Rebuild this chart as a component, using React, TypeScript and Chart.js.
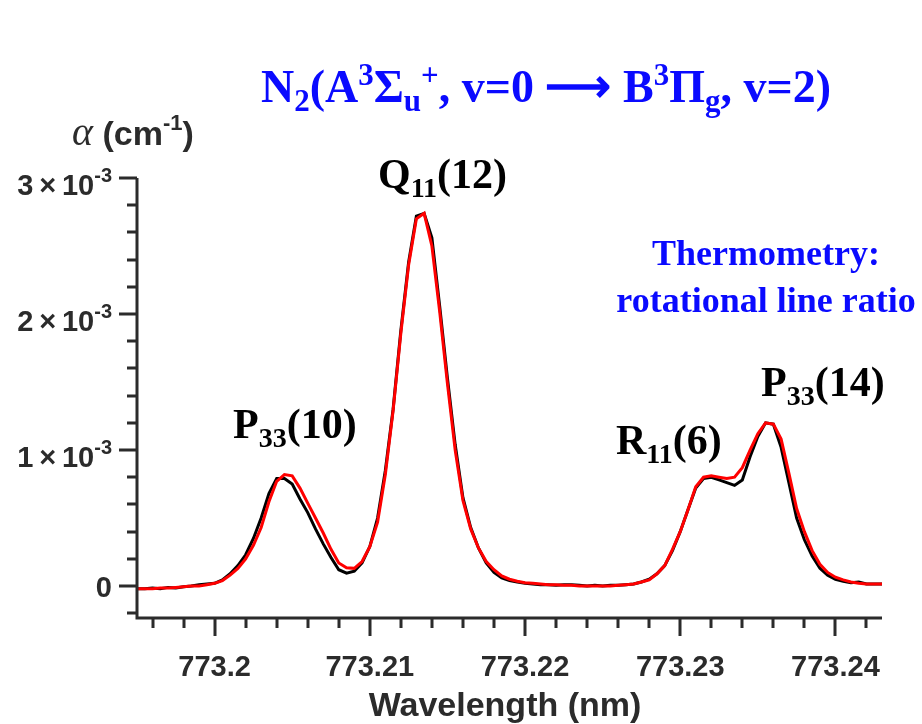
import React, { useEffect, useRef } from "react";
import { Chart, registerables } from "chart.js";

Chart.register(...registerables);

// Wavelength grid (nm)
const wavelengthNm: number[] = [
  773.195, 773.1955, 773.196, 773.1965, 773.197, 773.1975, 773.198, 773.1985, 773.199, 773.1995,
  773.2, 773.2005, 773.201, 773.2015, 773.202, 773.2025, 773.203, 773.2035, 773.204, 773.2045,
  773.205, 773.2055, 773.206, 773.2065, 773.207, 773.2075, 773.208, 773.2085, 773.209, 773.2095,
  773.21, 773.2105, 773.211, 773.2115, 773.212, 773.2125, 773.213, 773.2135, 773.214, 773.2145,
  773.215, 773.2155, 773.216, 773.2165, 773.217, 773.2175, 773.218, 773.2185, 773.219, 773.2195,
  773.22, 773.2205, 773.221, 773.2215, 773.222, 773.2225, 773.223, 773.2235, 773.224, 773.2245,
  773.225, 773.2255, 773.226, 773.2265, 773.227, 773.2275, 773.228, 773.2285, 773.229, 773.2295,
  773.23, 773.2305, 773.231, 773.2315, 773.232, 773.2325, 773.233, 773.2335, 773.234, 773.2345,
  773.235, 773.2355, 773.236, 773.2365, 773.237, 773.2375, 773.238, 773.2385, 773.239, 773.2395,
  773.24, 773.2405, 773.241, 773.2415, 773.242, 773.2425, 773.243,
];

// Absorption coefficient, measured (black), in units of 1e-3 cm^-1
const alphaMeasuredE3: number[] = [
  -0.02, -0.02, -0.015, -0.02, -0.01, -0.015, -0.005, 0.0, 0.01, 0.015,
  0.02, 0.045, 0.09, 0.15, 0.23, 0.35, 0.5, 0.68, 0.79, 0.79,
  0.75, 0.64, 0.54, 0.42, 0.31, 0.21, 0.12, 0.095, 0.11, 0.17,
  0.29, 0.5, 0.85, 1.3, 1.88, 2.38, 2.72, 2.74, 2.56, 2.06,
  1.53, 1.04, 0.65, 0.43, 0.28, 0.17, 0.1, 0.06, 0.04, 0.03,
  0.02, 0.015, 0.01, 0.01, 0.005, 0.01, 0.01, 0.005, 0.0, 0.005,
  0.0, 0.005, 0.005, 0.01, 0.015, 0.03, 0.05, 0.09, 0.15, 0.26,
  0.4, 0.56, 0.72, 0.79, 0.8, 0.78, 0.76, 0.74, 0.78, 0.95,
  1.1, 1.2, 1.19, 1.02, 0.76, 0.5, 0.34, 0.22, 0.13, 0.08,
  0.05, 0.035, 0.025, 0.03, 0.015, 0.015, 0.015,
];

// Absorption coefficient, fit (red), in units of 1e-3 cm^-1
const alphaFitE3: number[] = [
  -0.02, -0.02, -0.02, -0.015, -0.015, -0.01, -0.005, 0.0, 0.0, 0.01,
  0.02, 0.04, 0.08, 0.13, 0.2, 0.3, 0.43, 0.62, 0.77, 0.82,
  0.81, 0.72, 0.61, 0.5, 0.39, 0.27, 0.17, 0.135, 0.13, 0.18,
  0.29, 0.47, 0.82, 1.29, 1.86, 2.36, 2.7, 2.74, 2.5, 2.02,
  1.49, 1.0, 0.63, 0.42, 0.28, 0.18, 0.12, 0.075, 0.05, 0.035,
  0.025, 0.02, 0.015, 0.01, 0.01, 0.005, 0.005, 0.0, 0.0, 0.0,
  0.0, 0.0, 0.005, 0.01, 0.015, 0.03, 0.045, 0.09, 0.15, 0.27,
  0.4, 0.56, 0.73, 0.8, 0.81, 0.8, 0.79, 0.8, 0.87, 1.0,
  1.12, 1.2, 1.19, 1.08, 0.83, 0.57, 0.4, 0.26, 0.16, 0.1,
  0.065, 0.045, 0.03, 0.02, 0.015, 0.015, 0.015,
];

const xMajorTicks: number[] = [773.2, 773.21, 773.22, 773.23, 773.24];
const xTickLabels: string[] = ["773.2", "773.21", "773.22", "773.23", "773.24"];
const yMajorTicks: number[] = [0, 1e-3, 2e-3, 3e-3];
const yTickMantissa: string[] = ["0", "1\u2009\u00d7\u200910", "2\u2009\u00d7\u200910", "3\u2009\u00d7\u200910"];
const yTickExponent: string[] = ["", "-3", "-3", "-3"];

const X_MIN = 773.195;
const X_MAX = 773.243;
const Y_MIN = -0.235e-3;
const Y_MAX = 3e-3;

type Seg = { t: string; font: string; dy?: number };

function measureSegs(ctx: CanvasRenderingContext2D, segs: Seg[]) {
  let w = 0;
  for (const s of segs) {
    ctx.font = s.font;
    w += ctx.measureText(s.t).width;
  }
  return w;
}

function drawRich(
  ctx: CanvasRenderingContext2D,
  segs: Seg[],
  x: number,
  y: number,
  align: "left" | "right" | "center",
  color: string
) {
  const w = measureSegs(ctx, segs);
  let cx = align === "left" ? x : align === "right" ? x - w : x - w / 2;
  ctx.fillStyle = color;
  ctx.textAlign = "left";
  ctx.textBaseline = "alphabetic";
  for (const s of segs) {
    ctx.font = s.font;
    ctx.fillText(s.t, cx, y + (s.dy || 0));
    cx += ctx.measureText(s.t).width;
  }
}

const SERIF_B = (px: number) => `bold ${px}px "Liberation Serif", "Times New Roman", serif`;
const SANS_B = (px: number) => `bold ${px}px "Liberation Sans", Arial, sans-serif`;

const decorPlugin = {
  id: "decor",
  afterDraw(chart: any) {
    const ctx: CanvasRenderingContext2D = chart.ctx;
    const xs = chart.scales.x;
    const ys = chart.scales.y;
    const { left, right, top, bottom } = chart.chartArea;
    const axisColor = "#2b2b2b";
    ctx.save();
    ctx.strokeStyle = axisColor;
    ctx.lineWidth = 3;
    ctx.lineCap = "butt";
    // axis lines
    ctx.beginPath();
    ctx.moveTo(left, top);
    ctx.lineTo(left, bottom + 1.5);
    ctx.moveTo(left - 1.5, bottom);
    ctx.lineTo(right, bottom);
    ctx.stroke();
    // x ticks
    ctx.beginPath();
    for (let i = 0; i <= 23; i++) {
      const v = 773.196 + i * 0.002;
      const px = Math.round(xs.getPixelForValue(v));
      const isMajor = i % 5 === 2;
      ctx.moveTo(px, bottom);
      ctx.lineTo(px, bottom + (isMajor ? 18 : 10));
    }
    // y ticks
    for (let i = -1; i <= 15; i++) {
      const v = i * 0.2e-3;
      const py = Math.round(ys.getPixelForValue(v));
      const isMajor = i % 5 === 0;
      ctx.moveTo(left, py);
      ctx.lineTo(left - (isMajor ? 18 : 10), py);
    }
    ctx.stroke();

    // x tick labels
    ctx.fillStyle = "#2b2b2b";
    ctx.font = SANS_B(29);
    ctx.textAlign = "center";
    ctx.textBaseline = "alphabetic";
    xMajorTicks.forEach((v, i) => {
      ctx.fillText(xTickLabels[i], xs.getPixelForValue(v), 676);
    });

    // y tick labels
    yMajorTicks.forEach((v, i) => {
      const py = ys.getPixelForValue(v);
      if (yTickExponent[i]) {
        drawRich(
          ctx,
          [
            { t: yTickMantissa[i], font: SANS_B(29) },
            { t: yTickExponent[i], font: SANS_B(20), dy: -13 },
          ],
          112,
          py + 17,
          "right",
          "#2b2b2b"
        );
      } else {
        drawRich(ctx, [{ t: yTickMantissa[i], font: SANS_B(29) }], 112, py + 11, "right", "#2b2b2b");
      }
    });

    // axis titles
    drawRich(ctx, [{ t: "Wavelength (nm)", font: SANS_B(34) }], 505, 716, "center", "#2b2b2b");
    drawRich(
      ctx,
      [
        { t: "\u03b1", font: `italic 40px "Liberation Serif", serif` },
        { t: " (cm", font: SANS_B(34) },
        { t: "-1", font: SANS_B(22), dy: -15 },
        { t: ")", font: SANS_B(34) },
      ],
      72,
      145,
      "left",
      "#2b2b2b"
    );

    // main title
    const T = SERIF_B(46);
    const t = SERIF_B(31);
    drawRich(
      ctx,
      [
        { t: "N", font: T },
        { t: "2", font: t, dy: 9 },
        { t: "(A", font: T },
        { t: "3", font: t, dy: -17 },
        { t: "\u03a3", font: T },
        { t: "u", font: t, dy: 9 },
        { t: "+", font: t, dy: -17 },
        { t: ", v=0 ", font: T },
        { t: "\u27f6", font: T },
        { t: " B", font: T },
        { t: "3", font: t, dy: -17 },
        { t: "\u03a0", font: T },
        { t: "g", font: t, dy: 9 },
        { t: ", v=2)", font: T },
      ],
      546,
      102,
      "center",
      "#0a0aff"
    );

    // thermometry note
    drawRich(ctx, [{ t: "Thermometry:", font: SERIF_B(36) }], 766, 265, "center", "#0a0aff");
    drawRich(ctx, [{ t: "rotational line ratio", font: SERIF_B(36) }], 766, 312, "center", "#0a0aff");

    // peak labels
    const L = SERIF_B(42);
    const s = SERIF_B(28);
    const peak = (a: string, b: string, c: string, x: number, y: number) =>
      drawRich(
        ctx,
        [
          { t: a, font: L },
          { t: b, font: s, dy: 9 },
          { t: c, font: L },
        ],
        x,
        y,
        "left",
        "#000"
      );
    peak("P", "33", "(10)", 233, 438);
    peak("Q", "11", "(12)", 378, 188);
    peak("R", "11", "(6)", 616, 454);
    peak("P", "33", "(14)", 761, 396);
    ctx.restore();
  },
};

export default function App() {
  const ref = useRef<HTMLCanvasElement>(null);
  useEffect(() => {
    const canvas = ref.current;
    if (!canvas) return;
    const chart = new Chart(canvas, {
      type: "line",
      data: {
        datasets: [
          {
            label: "fit",
            data: wavelengthNm.map((x, i) => ({ x, y: alphaFitE3[i] * 1e-3 })),
            borderColor: "#ff0000",
            borderWidth: 3,
            pointRadius: 0,
            tension: 0,
            fill: false,
          },
          {
            label: "measured",
            data: wavelengthNm.map((x, i) => ({ x, y: alphaMeasuredE3[i] * 1e-3 })),
            borderColor: "#000000",
            borderWidth: 3,
            pointRadius: 0,
            tension: 0,
            fill: false,
          },
        ],
      },
      options: {
        animation: false,
        responsive: false,
        devicePixelRatio: 1,
        events: [],
        layout: { padding: { left: 137, top: 178, right: 40, bottom: 106 } },
        plugins: {
          legend: { display: false },
          tooltip: { enabled: false },
          title: { display: false },
        },
        scales: {
          x: { type: "linear", display: false, min: X_MIN, max: X_MAX },
          y: { type: "linear", display: false, min: Y_MIN, max: Y_MAX },
        },
      },
      plugins: [decorPlugin],
    });
    return () => chart.destroy();
  }, []);
  return (
    <div style={{ position: "absolute", left: 0, top: 0, width: 922, height: 724, background: "#fff" }}>
      <canvas ref={ref} width={922} height={724} style={{ display: "block" }} />
    </div>
  );
}
